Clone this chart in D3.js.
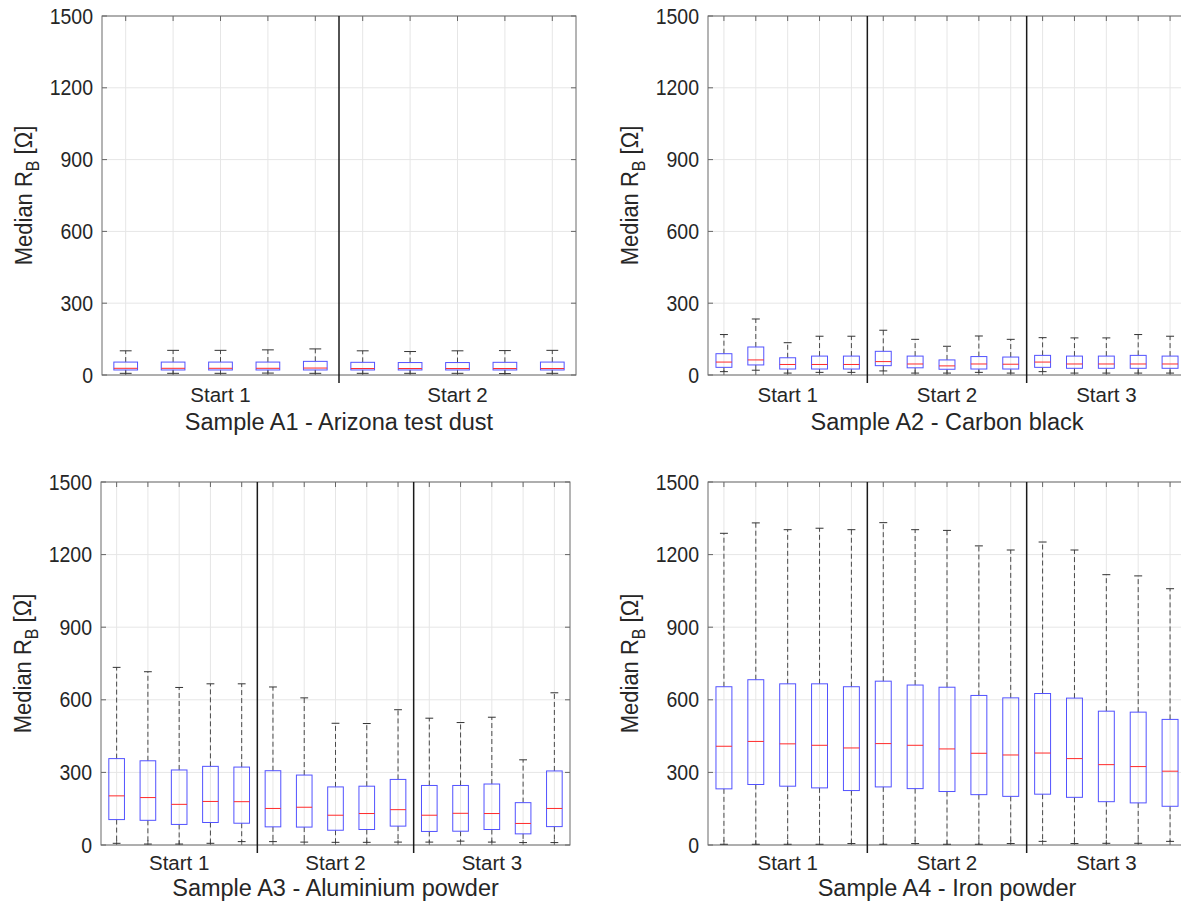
<!DOCTYPE html>
<html>
<head>
<meta charset="utf-8">
<script src="https://cdn.jsdelivr.net/npm/d3@7"></script>
<style>
  html, body { margin: 0; padding: 0; background: #fff; }
  svg { display: block; font-family: "Liberation Sans", Arial, sans-serif; }
</style>
</head>
<body>
<svg id="chart" width="1181" height="903"></svg>
<script>
// ---------- DATA ----------
const yTicks = [0, 300, 600, 900, 1200, 1500];
const yLabelMain = "Median R";
const yLabelSub = "B";
const yLabelUnit = " [Ω]";

// Sample A1 - Arizona test dust (2 starts x 5 boxes)
const a1Title = "Sample A1 - Arizona test dust";
const a1Groups = ["Start 1", "Start 2"];
const a1Lower  = [7, 7, 7, 8, 7, 7, 7, 7, 6, 7];
const a1Q1     = [21, 21, 21, 21, 21, 21, 21, 21, 21, 21];
const a1Median = [28, 28, 28, 28, 29, 27, 27, 27, 27, 27];
const a1Q3     = [54, 54, 54, 54, 57, 53, 52, 52, 53, 54];
const a1Upper  = [101, 103, 103, 105, 109, 101, 98, 101, 102, 103];

// Sample A2 - Carbon black (3 starts x 5 boxes)
const a2Title = "Sample A2 - Carbon black";
const a2Groups = ["Start 1", "Start 2", "Start 3"];
const a2Lower  = [14, 20, 8, 11, 11, 17, 8, 8, 11, 8, 14, 8, 8, 8, 8];
const a2Q1     = [32, 42, 25, 25, 25, 39, 30, 24, 25, 25, 32, 28, 28, 28, 28];
const a2Median = [54, 63, 44, 44, 44, 56, 46, 38, 46, 45, 54, 46, 46, 46, 46];
const a2Q3     = [89, 117, 72, 79, 79, 99, 79, 63, 77, 75, 82, 79, 79, 82, 79];
const a2Upper  = [169, 234, 135, 162, 162, 187, 149, 120, 163, 149, 156, 155, 155, 169, 162];

// Sample A3 - Aluminium powder
const a3Title = "Sample A3 - Aluminium powder";
const a3Groups = ["Start 1", "Start 2", "Start 3"];
const a3Lower  = [7, 4, 4, 7, 14, 14, 12, 11, 11, 12, 12, 16, 12, 10, 10];
const a3Q1     = [105, 102, 85, 93, 90, 75, 74, 61, 64, 78, 56, 57, 64, 46, 76];
const a3Median = [203, 196, 168, 180, 179, 151, 156, 123, 130, 146, 123, 131, 130, 89, 151];
const a3Q3     = [357, 348, 310, 325, 322, 307, 289, 240, 243, 271, 246, 246, 252, 175, 306];
const a3Upper  = [734, 716, 651, 666, 666, 653, 608, 503, 502, 559, 524, 506, 528, 352, 629];

// Sample A4 - Iron powder
const a4Title = "Sample A4 - Iron powder";
const a4Groups = ["Start 1", "Start 2", "Start 3"];
const a4Lower  = [3, 3, 3, 3, 6, 3, 6, 3, 3, 6, 15, 6, 7, 7, 15];
const a4Q1     = [232, 250, 243, 236, 225, 240, 233, 221, 208, 201, 210, 197, 179, 174, 160];
const a4Median = [408, 428, 418, 412, 401, 419, 412, 397, 379, 372, 380, 357, 332, 324, 305];
const a4Q3     = [654, 683, 666, 666, 654, 677, 661, 652, 618, 608, 626, 607, 553, 549, 519];
const a4Upper  = [1288, 1331, 1303, 1309, 1303, 1332, 1303, 1300, 1236, 1219, 1252, 1219, 1117, 1112, 1059];

// ---------- LAYOUT ----------
const panels = [
  { title: a1Title, groups: a1Groups, lo: a1Lower, q1: a1Q1, med: a1Median, q3: a1Q3, hi: a1Upper,
    x0: 102, x1: 576, y0: 16, y1: 375, grpOff: 27, titleOff: 55 },
  { title: a2Title, groups: a2Groups, lo: a2Lower, q1: a2Q1, med: a2Median, q3: a2Q3, hi: a2Upper,
    x0: 708, x1: 1186, y0: 16, y1: 375, grpOff: 27, titleOff: 55 },
  { title: a3Title, groups: a3Groups, lo: a3Lower, q1: a3Q1, med: a3Median, q3: a3Q3, hi: a3Upper,
    x0: 101, x1: 570, y0: 482, y1: 845, grpOff: 25, titleOff: 51 },
  { title: a4Title, groups: a4Groups, lo: a4Lower, q1: a4Q1, med: a4Median, q3: a4Q3, hi: a4Upper,
    x0: 708, x1: 1186, y0: 482, y1: 845, grpOff: 25, titleOff: 51 }
];

const STRETCH = 1.0;
const textColor = "#262626";
const svg = d3.select("#chart");

function addText(g, x, y, str, size, anchor, rotate, stretch) {
  const s = stretch || STRETCH;
  const t = g.append("text")
    .attr("transform", `translate(${x},${y})` + (rotate ? ` rotate(${rotate})` : "") + ` scale(1,${s})`)
    .attr("text-anchor", anchor)
    .attr("font-size", size)
    .attr("fill", textColor);
  if (str !== null) t.text(str);
  return t;
}

panels.forEach(p => {
  const n = p.med.length;
  const perGroup = n / p.groups.length;
  const idx = d3.range(n);
  const x = d3.scaleBand().domain(idx).range([p.x0, p.x1]).padding(0);
  const y = d3.scaleLinear().domain([0, 1500]).range([p.y1, p.y0]);
  const bw = x.bandwidth();
  const cx = i => x(i) + bw / 2;

  const g = svg.append("g");

  // grid
  g.selectAll(".hgrid").data(yTicks).join("line")
    .attr("x1", p.x0).attr("x2", p.x1)
    .attr("y1", d => y(d)).attr("y2", d => y(d))
    .attr("stroke", "#e6e6e6").attr("stroke-width", 1);
  g.selectAll(".vgrid").data(idx).join("line")
    .attr("x1", d => cx(d)).attr("x2", d => cx(d))
    .attr("y1", p.y0).attr("y2", p.y1)
    .attr("stroke", "#e6e6e6").attr("stroke-width", 1);

  // ticks (inward)
  const tl = 5;
  yTicks.forEach(t => {
    g.append("line").attr("x1", p.x0).attr("x2", p.x0 + tl).attr("y1", y(t)).attr("y2", y(t)).attr("stroke", "#666");
    g.append("line").attr("x1", p.x1).attr("x2", p.x1 - tl).attr("y1", y(t)).attr("y2", y(t)).attr("stroke", "#666");
  });
  idx.forEach(i => {
    g.append("line").attr("x1", cx(i)).attr("x2", cx(i)).attr("y1", p.y0).attr("y2", p.y0 + tl).attr("stroke", "#666");
    g.append("line").attr("x1", cx(i)).attr("x2", cx(i)).attr("y1", p.y1).attr("y2", p.y1 - tl).attr("stroke", "#666");
  });

  // frame
  g.append("rect").attr("x", p.x0).attr("y", p.y0)
    .attr("width", p.x1 - p.x0).attr("height", p.y1 - p.y0)
    .attr("fill", "none").attr("stroke", "#6b6b6b").attr("stroke-width", 1);

  // boxes
  const capW = bw * 0.25;
  const boxW = bw * 0.5;
  idx.forEach(i => {
    const c = cx(i);
    g.append("line").attr("x1", c).attr("x2", c).attr("y1", y(p.q3[i])).attr("y2", y(p.hi[i]))
      .attr("stroke", "#4a4a4a").attr("stroke-dasharray", "5,3").attr("stroke-width", 1);
    g.append("line").attr("x1", c).attr("x2", c).attr("y1", y(p.q1[i])).attr("y2", y(p.lo[i]))
      .attr("stroke", "#4a4a4a").attr("stroke-dasharray", "5,3").attr("stroke-width", 1);
    [p.hi[i], p.lo[i]].forEach(v => {
      g.append("line").attr("x1", c - capW / 2).attr("x2", c + capW / 2).attr("y1", y(v)).attr("y2", y(v))
        .attr("stroke", "#333").attr("stroke-width", 1);
    });
    g.append("rect").attr("x", c - boxW / 2).attr("y", y(p.q3[i]))
      .attr("width", boxW).attr("height", y(p.q1[i]) - y(p.q3[i]))
      .attr("fill", "none").attr("stroke", "#5252ff").attr("stroke-width", 1);
    g.append("line").attr("x1", c - boxW / 2).attr("x2", c + boxW / 2)
      .attr("y1", y(p.med[i])).attr("y2", y(p.med[i]))
      .attr("stroke", "#ff2a2a").attr("stroke-width", 1);
  });

  // group dividers
  for (let k = 1; k < p.groups.length; k++) {
    const xd = x(k * perGroup);
    g.append("line").attr("x1", xd).attr("x2", xd).attr("y1", p.y0).attr("y2", p.y1 + 8)
      .attr("stroke", "#1a1a1a").attr("stroke-width", 1.5);
  }

  // y tick labels
  yTicks.forEach(t => {
    addText(g, p.x0 - 9, y(t) + 7.5, String(t), 19.5, "end", 0, 1.1);
  });

  // group labels
  p.groups.forEach((lab, k) => {
    const gx = (x(k * perGroup) + x((k + 1) * perGroup - 1) + bw) / 2;
    addText(g, gx, p.y1 + p.grpOff, lab, 20.5, "middle");
  });

  // title
  addText(g, (p.x0 + p.x1) / 2, p.y1 + p.titleOff, p.title, 23.5, "middle");

  // y label
  const yl = addText(g, p.x0 - 70, (p.y0 + p.y1) / 2, null, 22, "middle", -90, 1.1);
  yl.append("tspan").text(yLabelMain);
  yl.append("tspan").text(yLabelSub).attr("font-size", 16).attr("dy", 6);
  yl.append("tspan").text(yLabelUnit).attr("dy", -6);
});
</script>
</body>
</html>
